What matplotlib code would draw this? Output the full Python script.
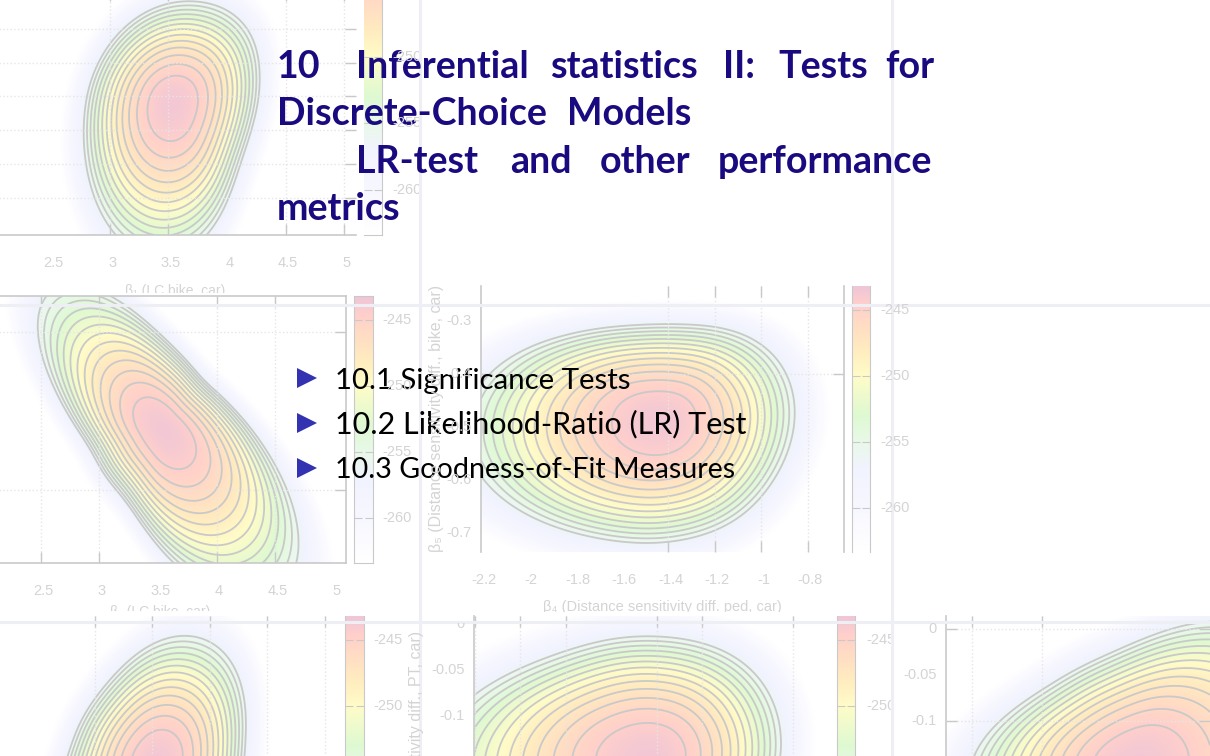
import numpy as np
import matplotlib
matplotlib.use('Agg')
import matplotlib.pyplot as plt
from matplotlib.colors import LinearSegmentedColormap
from matplotlib.transforms import Bbox

W, H = 1210, 756

# colour scale shared by all surfaces (log-likelihood, colour)
scale_values = [-263.3, -260, -257, -255, -253, -250, -248, -246, -244.5, -243.2]
scale_colours = ['#ffffff', '#f7f7ff', '#f1f3fe', '#e9f9e9', '#def9d2', '#fffcc8', '#ffecc0',
                 '#ffdcc4', '#ffcfcb', '#efc6d8']

# outermost contour and surface peak of each panel
a_x = [3.743, 4.056, 4.226, 4.260, 4.198, 4.056, 3.843, 3.771, 3.487, 3.203, 3.004, 2.891, 2.811, 2.805, 2.891,
       3.090, 3.345, 3.544]
a_y = [6.903, 6.657, 5.966, 4.783, 3.304, 2.022, 0.099, -0.641, -1.036, -0.740, 0.099, 1.036, 2.318, 3.501, 4.882,
       5.966, 6.657, 6.903]
a_peak = [3.544, 3.895]

b_x = [2.423, 2.522, 2.693, 2.949, 3.290, 3.632, 4.200, 4.750, 4.800, 4.640, 4.400, 4.144, 3.859, 3.575, 3.290,
       3.091, 2.650, 2.300, 2.330]
b_y = [1.580, 1.306, 1.053, 0.757, 0.399, 0.040, -0.340, -0.300, 0.040, 0.357, 0.694, 0.947, 1.137, 1.369, 1.559,
       1.665, 1.980, 1.960, 1.740]
b_peak = [3.546, 0.842]

c_x = [-1.320, -1.105, -0.962, -0.876, -0.850, -0.869, -0.962, -1.105, -1.320, -1.606, -1.821, -2.036, -2.186,
       -2.337, -2.186, -1.964, -1.750, -1.535]
c_y = [-0.3139, -0.3215, -0.3468, -0.4036, -0.4479, -0.5237, -0.6058, -0.6754, -0.7070, -0.7101, -0.6912, -0.6564,
       -0.6185, -0.5047, -0.3847, -0.3499, -0.3246, -0.3152]
c_peak = [-1.434, -0.486]

d_x = [3.337, 3.641, 3.771, 3.797, 3.771, 3.719, 3.502, 2.980, 2.458, 2.197, 2.308, 2.541, 2.771, 3.110]
d_y = [1.601, 1.519, 1.241, 1.013, 0.823, 0.525, 0.209, -0.044, 0.146, 0.462, 0.823, 1.177, 1.367, 1.570]
d_peak = [3.041, 0.766]

e_x = [-1.430, -1.273, -1.087, -0.966, -0.889, -0.854, -0.854, -0.946, -1.210, -1.562, -2.001, -2.353, -2.485,
       -2.195, -1.932, -1.764, -1.650]
e_y = [-0.0163, -0.0185, -0.0315, -0.0500, -0.0826, -0.1120, -0.1402, -0.2022, -0.2565, -0.2783, -0.2674, -0.2130,
       -0.1370, -0.0772, -0.0467, -0.0304, -0.0207]
e_peak = [-1.430, -0.1457]

f_x = [4.096, 4.417, 4.846, 5.131, 4.846, 3.774, 2.917, 2.417, 2.431, 2.681, 3.039, 3.460, 3.739]
f_y = [0.0054, 0.0120, -0.0120, -0.1424, -0.2511, -0.2837, -0.2511, -0.1859, -0.1380, -0.1065, -0.0696, -0.0337,
       -0.0152]
f_peak = [3.667, -0.1467]

# tick values and labels
beta_values = [2.5, 3, 3.5, 4, 4.5, 5]
beta_labels = ['2.5', '3', '3.5', '4', '4.5', '5']
dist_values = [-2.2, -2, -1.8, -1.6, -1.4, -1.2, -1, -0.8]
dist_labels = ['-2.2', '-2', '-1.8', '-1.6', '-1.4', '-1.2', '-1', '-0.8']
c_values = [-0.3, -0.4, -0.5, -0.6, -0.7]
c_labels = ['-0.3', '-0.4', '-0.5', '-0.6', '-0.7']
e_values = [0, -0.05, -0.1, -0.15]
e_labels = ['0', '-0.05', '-0.1', '-0.15']
f_values = [0, -0.05, -0.1]
f_labels = ['0', '-0.05', '-0.1']
bar_ticks = [-245, -250, -255, -260]
bar_labels = ['-245', '-250', '-255', '-260']

# slide text
title_words = [
    ('10', 277, 78), ('Inferential', 356, 78), ('statistics', 550, 78), ('II:', 723, 78), ('Tests', 778, 78),
    ('for', 885, 78),
    ('Discrete-Choice', 277, 125), ('Models', 567, 125),
    ('LR-test', 356, 173), ('and', 510, 173), ('other', 600, 173), ('performance', 718, 173),
    ('metrics', 277, 220),
]
items = ['10.1 Significance Tests', '10.2 Likelihood-Ratio (LR) Test', '10.3 Goodness-of-Fit Measures']
item_sizes = [21.15, 22.0, 20.6]

plt.rcParams['font.family'] = ['Lato', 'DejaVu Sans']

fig = plt.figure(figsize=(W / 100, H / 100), dpi=100, facecolor='white')
cmap = LinearSegmentedColormap.from_list(
    'surface', [((v - scale_values[0]) / (scale_values[-1] - scale_values[0]), c)
                for v, c in zip(scale_values, scale_colours)])
GREY = '#c9c9c9'
LABEL = '#d4d4d4'
ARIAL = ['Liberation Sans', 'DejaVu Sans']


def px_axes(x0, y0, x1, y1):
    return fig.add_axes([x0 / W, 1 - y1 / H, (x1 - x0) / W, (y1 - y0) / H])


def clip_box(x0, y0, x1, y1):
    return Bbox([[x0, H - y1], [x1, H - y0]])


def tile_text(x, y, s, box, **kw):
    # grey text of the faded background, cut at the edge of its tile
    t = fig.text(x / W, 1 - y / H, s, color=LABEL, family=ARIAL, fontsize=kw.pop('fontsize', 10.5),
                 ha=kw.pop('ha', 'center'), va='center', **kw)
    t.set_clip_box(box)
    t.set_clip_on(True)
    return t


def radius_profile(angles, radii, cut):
    # log radius of the read outline against angle, with a soft low-pass so the rings stay round
    grid = np.linspace(-np.pi, np.pi, 720, endpoint=False)
    order = np.argsort(angles)
    spec = np.fft.rfft(np.log(np.interp(grid, angles[order], radii[order], period=2 * np.pi)))
    spec *= np.exp(-(np.arange(len(spec)) / cut) ** 2)
    return grid, np.fft.irfft(spec, len(grid))


def surface_panel(rect, xlim, ylim, outline_x, outline_y, peak, x_ticks, y_ticks, spines, box=None,
                  x_label_at=None, x_labels=None, y_label_at=None, y_labels=None, peak_value=-243.6, rings=13):
    ax = px_axes(*rect)
    ax.set_xlim(*xlim)
    ax.set_ylim(*ylim)

    # surface: paraboloid between the read peak and the read outer contour, in pixel-like units
    sx = (rect[2] - rect[0]) / (xlim[1] - xlim[0])
    sy = (rect[3] - rect[1]) / (ylim[1] - ylim[0])
    dx = (np.array(outline_x) - peak[0]) * sx
    dy = (np.array(outline_y) - peak[1]) * sy
    grid, outer = radius_profile(np.arctan2(dy, dx), np.hypot(dx, dy), 6.0)
    inner = radius_profile(np.arctan2(dy, dx), np.hypot(dx, dy), 2.5)[1]
    gx, gy = np.meshgrid(np.linspace(*xlim, 300), np.linspace(*ylim, 300))
    ga = np.arctan2((gy - peak[1]) * sy, (gx - peak[0]) * sx)
    gr = np.hypot((gy - peak[1]) * sy, (gx - peak[0]) * sx)
    log_outer = np.interp(ga, grid, outer, period=2 * np.pi)
    log_inner = np.interp(ga, grid, inner, period=2 * np.pi)
    # inner rings follow the rounder profile, the outer ones the read outline
    w = np.clip(gr / np.exp(log_outer), 0, 1)
    ratio = gr / np.exp((1 - w) * log_inner + w * log_outer)
    step = 0.95
    field = peak_value - rings * step * ratio ** 2

    ax.imshow(field, extent=[*xlim, *ylim], origin='lower', aspect='auto', cmap=cmap,
              vmin=scale_values[0], vmax=scale_values[-1], interpolation='bilinear', zorder=1)
    levels = peak_value - step * np.arange(rings, 0, -1)
    ax.contour(gx, gy, field, levels=levels, colors=GREY, linewidths=1.3, linestyles='solid', zorder=2)

    ax.set_xticks(x_ticks)
    ax.set_yticks(y_ticks)
    ax.set_xticklabels([])
    ax.set_yticklabels([])
    ax.tick_params(direction='in', length=8, width=1, color=GREY, top=True, right=True)
    ax.grid(True, linestyle=':', color='#e6e6e6', linewidth=1, zorder=3)
    ax.set_axisbelow(False)
    for name, sp in ax.spines.items():
        sp.set_color(GREY)
        sp.set_linewidth(1.2)
        sp.set_visible(name in spines)

    # tick labels go through the data scale of the axes
    if x_labels:
        for v, s in zip(x_label_at, x_labels):
            px = rect[0] + (v - xlim[0]) * sx
            tile_text(px + 2.5, rect[3] + 28, s, box)
    if y_labels:
        for v, s in zip(y_label_at, y_labels):
            py = rect[3] - (v - ylim[0]) * sy
            tile_text(rect[0] - 9, py, s, box, ha='right')
    return ax


def colour_bar(x0, y0, x1, y1, top_value, bottom_value, box, labels, pad=9, sides=('left', 'right', 'top', 'bottom')):
    ax = px_axes(x0, y0, x1, y1)
    vals = np.linspace(top_value, bottom_value, 200).reshape(-1, 1)
    ax.imshow(vals, extent=[0, 1, bottom_value, top_value], aspect='auto', cmap=cmap,
              vmin=scale_values[0], vmax=scale_values[-1], origin='upper', interpolation='bilinear')
    ax.set_ylim(bottom_value, top_value)
    ax.set_xticks([])
    ax.set_yticks(bar_ticks)
    ax.set_yticklabels([])
    ax.tick_params(direction='in', length=6, color=GREY, left=True, right=True)
    for name, sp in ax.spines.items():
        sp.set_color(GREY)
        sp.set_visible(name in sides)
    for v, s in zip(bar_ticks, labels):
        py = y0 + (top_value - v) / (top_value - bottom_value) * (y1 - y0)
        tile_text(x1 + pad, py, s, box, ha='left')
    return ax


# top-left tile
box_a = clip_box(0, 0, 419, 293)
surface_panel((-20, -10, 356, 235), (1.896, 5.10), (0, 7.25), a_x, a_y, a_peak, [3, 3.5, 4.5, 5],
              [1.1, 2.1, 3.1, 4.1, 5.1, 6.1], ['bottom'], box=box_a, x_label_at=beta_values, x_labels=beta_labels)
colour_bar(364, -40, 382, 235, -242.7, -263.4, box_a, bar_labels, pad=10, sides=('right', 'bottom'))
tile_text(175, 291, '\u03b2\u2081 (LC bike, car)', box_a, fontsize=10)

# middle-left tile
box_b = clip_box(0, 293, 419, 611)
surface_panel((-20, 296, 346, 563), (1.982, 5.104), (0, 1.69), b_x, b_y, b_peak, [2.5, 3, 4, 4.5], [0.46, 1.46],
              ['top', 'bottom', 'right'], box=box_b, x_label_at=beta_values, x_labels=beta_labels)
colour_bar(354, 296, 373, 563, -243.2, -263.4, box_b, bar_labels)
tile_text(160, 612, '\u03b2\u2081 (LC bike, car)', box_b, fontsize=10)

# middle tile
box_c = clip_box(421, 280, 935, 612)
surface_panel((481, 286, 844, 552), (-2.204, -0.644), (-0.736, -0.2337), c_x, c_y, c_peak, [-1.4, -1.2, -1, -0.8],
              [-0.4], ['left', 'right'], box=box_c, x_label_at=dist_values, x_labels=dist_labels,
              y_label_at=c_values, y_labels=c_labels)
colour_bar(852, 286, 870, 552, -243.2, -263.3, box_c, bar_labels, pad=10, sides=('left', 'right'))
tile_text(662, 607, '\u03b2\u2084 (Distance sensitivity diff. ped, car)', box_c)
tile_text(437, 418, '\u03b2\u2085 (Distance sensitivity diff., bike, car)', box_c, rotation=90, fontsize=11.5)

# bottom-left tile
box_d = clip_box(0, 623, 419, 756)
surface_panel((-20, 616, 346, 883), (1.502, 4.684), (0, 1.69), d_x, d_y, d_peak, [2.5, 3, 3.5, 4, 4.5], [], [])
colour_bar(345, 616, 364, 883, -243.2, -263.4, box_d, bar_labels[:2] + ['', ''], pad=9, sides=('left', 'right'))

# bottom-middle tile
box_e = clip_box(421, 623, 891, 756)
surface_panel((473.8, 616, 830, 883), (-2.204, -0.639), (-0.2815, 0.0087), e_x, e_y, e_peak,
              [-2.2, -2, -1.8, -1.4, -1.2, -0.8], [], ['left'], box=box_e, y_label_at=e_values, y_labels=e_labels)
colour_bar(837, 616, 855, 883, -243.2, -263.4, box_e, bar_labels[:2] + ['', ''], pad=11, sides=('left', 'right'))
tile_text(416, 700, 'sitivity diff., PT, car)', clip_box(405, 623, 425, 756), rotation=90, fontsize=11.5)

# bottom-right tile
box_f = clip_box(893, 623, 1210, 756)
surface_panel((946, 616, 1210, 883), (2.317, 4.203), (-0.2761, 0.0141), f_x, f_y, f_peak, [2.5, 3], [0, -0.1],
              ['left'], box=box_f, y_label_at=f_values, y_labels=f_labels)

# slide layer: tile seams, title, items
top = fig.add_axes([0, 0, 1, 1], facecolor='none')
top.set_xlim(0, W)
top.set_ylim(H, 0)
top.axis('off')
for px in (420, 892):
    top.axvline(px, color='#eeeef5', linewidth=2.2)
for py in (305, 622):
    top.axhline(py, color='#eeeef5', linewidth=2.2)

for word, px, py in title_words:
    top.text(px, py, word, color='#1a0a80', fontsize=27.1, fontweight='bold', va='baseline', ha='left')

for i, (item, size) in enumerate(zip(items, item_sizes)):
    top.plot(307, 378 + 45 * i, marker='>', color='#3333b2', markersize=14, markeredgewidth=0)
    top.text(335, 388.5 + 45 * i, item, color='black', fontsize=size, va='baseline', ha='left')

fig.savefig('out.png', dpi=100)
